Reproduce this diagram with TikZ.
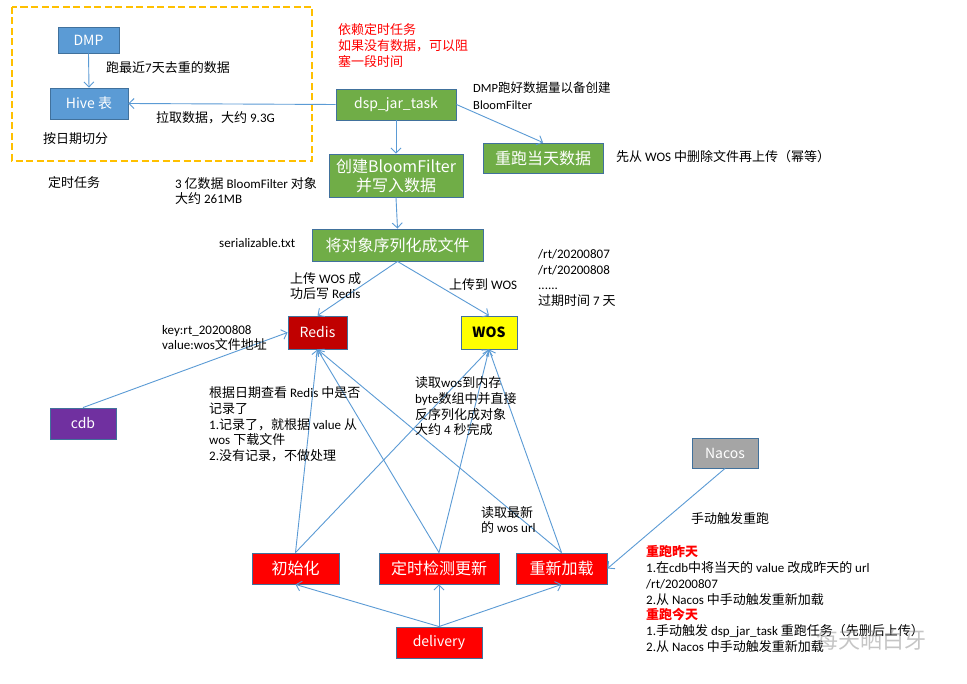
\documentclass[tikz,border=0pt]{standalone}
\usepackage{fontspec}
\setmainfont{Carlito}
\newfontfamily\cjkf{Noto Sans CJK SC}
\newfontfamily\carl{Carlito}
\usetikzlibrary{arrows.meta}
% automatic CJK font switching
\newcount\mycnt
\chardef\cjkclass=50
\newcommand\setcjkrange[2]{\mycnt=#1\relax\loop\XeTeXcharclass\mycnt=\cjkclass\relax\ifnum\mycnt<#2\relax\advance\mycnt by 1\relax\repeat}
\setcjkrange{"3000}{"303F}
\setcjkrange{"4E00}{"9FFF}
\setcjkrange{"FF00}{"FFEF}
\def\curlat{\carl}
\XeTeXinterchartoks 0 \cjkclass = {\cjkf}
\XeTeXinterchartoks 4095 \cjkclass = {\cjkf}
\XeTeXinterchartoks \cjkclass 0 = {\curlat}
\XeTeXinterchartoks \cjkclass 4095 = {\curlat}
\XeTeXinterchartokenstate=1
\definecolor{lineblue}{HTML}{5B9BD5}
\definecolor{boxborder}{HTML}{41719C}
\definecolor{boxblue}{HTML}{5B9BD5}
\definecolor{boxgreen}{HTML}{70AD47}
\definecolor{darkred}{HTML}{C00000}
\definecolor{brightred}{HTML}{FF0000}
\definecolor{yel}{HTML}{FFFF00}
\definecolor{purp}{HTML}{7030A0}
\definecolor{greybox}{HTML}{A5A5A5}
\definecolor{orangey}{HTML}{FFC000}
\newcommand\lbox{\let\curlat\cjkf\cjkf\fontsize{14}{16}\selectfont}
\newcommand\cbox{\let\curlat\cjkf\cjkf\fontsize{16}{19}\selectfont}
\newcommand\txtf{\fontsize{13}{15.7}\selectfont}
\begin{document}
\begin{tikzpicture}[x=1pt,y=-1pt,
  arr/.style={draw=lineblue, line width=0.9pt, -{Straight Barb[length=5pt,width=10pt]}},
  box/.style={draw=boxborder, line width=0.9pt, inner sep=0pt, text=white, align=center},
  txt/.style={anchor=west, inner sep=0pt, align=left, font=\txtf}]
\useasboundingbox[fill=white] (0,0) rectangle (967,684);

% dashed frame
\draw[draw=orangey, line width=1.8pt, dash pattern=on 7pt off 3.5pt] (12,7) rectangle (312,161);

% boxes
\node[box, fill=boxblue, minimum width=61pt, minimum height=26pt, font=\lbox] (dmp) at (88.5,40) {DMP};
\node[box, fill=boxblue, minimum width=78pt, minimum height=31pt, font=\lbox] (hive) at (89,103.5) {Hive 表};
\node[box, fill=boxgreen, minimum width=120pt, minimum height=31pt, font=\lbox] (dsp) at (396,104.5) {dsp\_jar\_task};
\node[box, fill=boxgreen, minimum width=120pt, minimum height=30pt, font=\cbox] (rerun) at (543,158) {重跑当天数据};
\node[box, fill=boxgreen, minimum width=134pt, minimum height=43pt, font=\cbox] (bloom) at (396,175.5) {创建BloomFilter\\并写入数据};
\node[box, fill=boxgreen, minimum width=171pt, minimum height=32pt, font=\cbox] (ser) at (397.5,245) {将对象序列化成文件};
\node[box, fill=darkred, minimum width=59pt, minimum height=33pt, font=\lbox] (redis) at (317.5,332.5) {Redis};
\node[box, fill=yel, text=black, minimum width=56pt, minimum height=33pt, font=\lbox\bfseries] (wos) at (489,332.5) {WOS};
\node[box, fill=purp, minimum width=66pt, minimum height=31pt, font=\lbox] (cdb) at (83,423.5) {cdb};
\node[box, fill=greybox, minimum width=66pt, minimum height=30pt, font=\lbox] (nacos) at (725,453) {Nacos};
\node[box, fill=brightred, minimum width=87pt, minimum height=31pt, font=\cbox] (init) at (295.5,568.5) {初始化};
\node[box, fill=brightred, minimum width=120pt, minimum height=31pt, font=\cbox] (timer) at (439,568.5) {定时检测更新};
\node[box, fill=brightred, minimum width=91pt, minimum height=31pt, font=\cbox] (reload) at (561.5,568.5) {重新加载};
\node[box, fill=brightred, minimum width=86pt, minimum height=31pt, font=\lbox] (delivery) at (439,642.5) {delivery};

% connectors
\draw[arr] (dmp.south) -- (hive.north);
\draw[arr] (dsp.west) -- (hive.east);
\draw[arr] (dsp.south) -- (bloom.north);
\draw[arr] (dsp.east) -- (rerun.north);
\draw[arr] (bloom.south) -- (ser.north);
\draw[arr] (ser.south) -- (redis.north);
\draw[arr] (ser.south) -- (wos.north);
\draw[arr] (cdb.north) -- (redis.west);
\foreach \b in {init,timer,reload}{
  \draw[arr] (\b.north) -- (redis.south);
  \draw[arr] (\b.north) -- (wos.south);
  \draw[arr] (delivery.north) -- (\b.south);
}
\draw[arr] (nacos.south) -- (reload.east);

% texts
\node[txt] (t1) at (106,68) {跑最近7天去重的数据};
\node[txt] (t2) at (156,118) {拉取数据，大约 9.3G};
\node[txt] (t3) at (43,139) {按日期切分};
\node[txt] (t4) at (48,183) {定时任务};
\node[txt] (t5) at (175,191) {3 亿数据 BloomFilter 对象\\大约 261MB};
\node[txt, text=red] (t6) at (338,45.5) {依赖定时任务\\如果没有数据，可以阻\\塞一段时间};
\node[txt, font=\fontsize{12.5}{17}\selectfont] (t7) at (473,95.5) {DMP跑好数据量以备创建\\BloomFilter};
\node[txt] (t8) at (616,157) {先从 WOS 中删除文件再上传（幂等）};
\node[txt] (t9) at (219,243) {serializable.txt};
\node[txt] (t10) at (290,286) {上传 WOS 成\\功后写 Redis};
\node[txt] (t11) at (449,285) {上传到 WOS};
\node[txt] (t12) at (538,278) {/rt/20200807\\/rt/20200808\\......\\过期时间 7 天};
\node[txt] (t13) at (162,338) {key:rt\_20200808\\value:wos文件地址};
\node[txt] (t14) at (209,424.5) {根据日期查看 Redis 中是否\\记录了\\1.记录了，就根据 value 从\\wos 下载文件\\2.没有记录，不做处理};
\node[txt] (t15) at (415,406.5) {读取wos到内存\\byte数组中并直接\\反序列化成对象\\大约 4 秒完成};
\node[txt] (t16) at (481,520) {读取最新\\的 wos url};
\node[txt] (t17) at (691,519) {手动触发重跑};
\node[txt] (t18) at (646,599) {\textcolor{red}{\bfseries 重跑昨天}\\1.在cdb中将当天的 value 改成昨天的 url\\/rt/20200807\\2.从 Nacos 中手动触发重新加载\\\textcolor{red}{\bfseries 重跑今天}\\1.手动触发 dsp\_jar\_task 重跑任务（先删后上传）\\2.从 Nacos 中手动触发重新加载};

% watermark
\node[anchor=west, inner sep=0pt, text=gray, opacity=0.45, font=\cjkf\fontsize{22}{24}\selectfont] (wm) at (816,640) {每天晒白牙};
\end{tikzpicture}
\end{document}
